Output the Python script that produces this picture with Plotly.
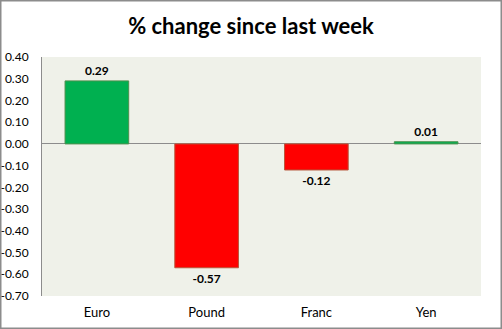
import plotly.graph_objects as go

categories = ["Euro", "Pound", "Franc", "Yen"]
values = [0.29, -0.57, -0.12, 0.01]
tick_vals = [0.4, 0.3, 0.2, 0.1, 0.0, -0.1, -0.2, -0.3, -0.4, -0.5, -0.6, -0.7]
tick_text = ["%.2f" % v for v in tick_vals]

fill = ["#00B050" if v >= 0 else "#FF0000" for v in values]
edge = ["#4E8F4E" if v >= 0 else "#B8543A" for v in values]

W, H = 502, 329
L, R, T, B = 42, 21, 57, 33
pw, ph = W - L - R, H - T - B
FONT = "Lato"

fig = go.Figure(go.Bar(
    x=categories, y=values,
    marker=dict(color=fill, line=dict(color=edge, width=1)),
    width=0.58,
    texttemplate="<b>%{y:.2f}</b>",
    textposition="outside",
    textfont=dict(size=12, color="#000000", family=FONT),
    cliponaxis=False,
    constraintext="none",
))

fig.update_layout(
    width=W, height=H,
    margin=dict(l=L, r=R, t=T, b=B, autoexpand=False),
    paper_bgcolor="#FFFFFF",
    plot_bgcolor="#EFF1E9",
    font=dict(family=FONT, size=12, color="#000000"),
    title=dict(text="<b>% change since last week</b>", x=0.5, xanchor="center",
               y=1 - 26 / H, yanchor="middle",
               font=dict(size=22, family=FONT, color="#000000")),
    showlegend=False,
    shapes=[dict(type="rect", xref="paper", yref="paper",
                 x0=-L / pw + 0.5 / pw, x1=1 + R / pw - 0.5 / pw,
                 y0=-B / ph + 0.5 / ph, y1=1 + T / ph - 0.5 / ph,
                 line=dict(color="#8C8C8C", width=2), layer="above")],
)
fig.update_yaxes(range=[-0.7, 0.4], tickvals=tick_vals, ticktext=tick_text,
                 showgrid=False, zeroline=True, zerolinecolor="#8C8C8C", zerolinewidth=1,
                 showline=True, linecolor="#8C8C8C", linewidth=1,
                 ticks="", ticklabelstandoff=10, tickfont=dict(size=12), automargin=False)
fig.update_xaxes(showgrid=False, showline=False, ticks="", tickfont=dict(size=13),
                 ticklabelstandoff=7, automargin=False)

fig.write_html("out.html")
